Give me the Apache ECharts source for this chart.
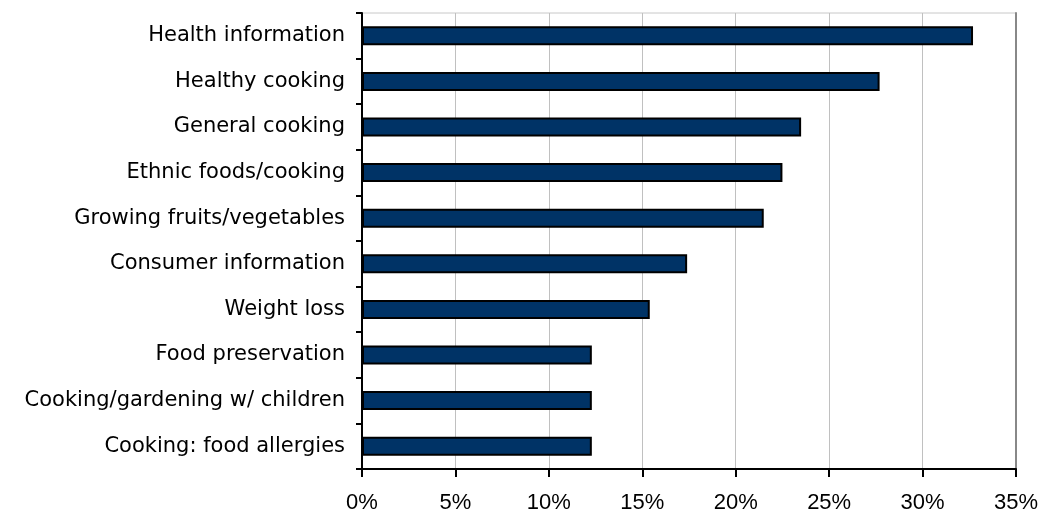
<!DOCTYPE html>
<html>
<head>
<meta charset="utf-8">
<script src="https://cdn.jsdelivr.net/npm/echarts@6/dist/echarts.min.js"></script>
<style>html,body{margin:0;padding:0;background:#fff;}#c{width:1042px;height:517px;}</style>
</head>
<body>
<div id="c"></div>
<script>
const categories = ["Health information","Healthy cooking","General cooking","Ethnic foods/cooking","Growing fruits/vegetables","Consumer information","Weight loss","Food preservation","Cooking/gardening w/ children","Cooking: food allergies"];
const values = [32.7, 27.7, 23.5, 22.5, 21.5, 17.4, 15.4, 12.3, 12.3, 12.3];
const xTicks = [0, 5, 10, 15, 20, 25, 30, 35];

const chart = echarts.init(document.getElementById('c'));
chart.setOption({
  animation: false,
  backgroundColor: '#fff',
  grid: { left: 362, right: 26, top: 13, bottom: 48, show: true, borderColor: '#c8c8c8', borderWidth: 1 },
  xAxis: [{
    type: 'value', min: 0, max: 35, interval: 5,
    axisLine: { show: true, lineStyle: { color: '#000', width: 2 } },
    axisTick: { show: true, length: 8, lineStyle: { color: '#000', width: 2 } },
    axisLabel: { margin: 23, fontFamily: 'Liberation Sans', fontSize: 22, color: '#000',
      formatter: v => xTicks.includes(v) ? v + '%' : '' },
    splitLine: { show: true, lineStyle: { color: '#c0c0c0', width: 1 } }
  }],
  yAxis: [{
    type: 'category', data: categories, inverse: true,
    axisLine: { show: true, lineStyle: { color: '#000', width: 2 } },
    axisTick: { show: true, length: 6, lineStyle: { color: '#000', width: 2 } },
    axisLabel: { margin: 17, fontFamily: 'DejaVu Sans', fontSize: 21, color: '#000' },
    splitLine: { show: false }
  }, {
    type: 'category', data: categories, inverse: true, position: 'right',
    axisLine: { show: true, lineStyle: { color: '#888', width: 2 } },
    axisTick: { show: false }, axisLabel: { show: false }, splitLine: { show: false }
  }],
  series: [{
    type: 'bar', data: values, barWidth: 19, yAxisIndex: 0,
    itemStyle: { color: '#003366', borderColor: '#000', borderWidth: 2 }
  }]
});
</script>
</body>
</html>
